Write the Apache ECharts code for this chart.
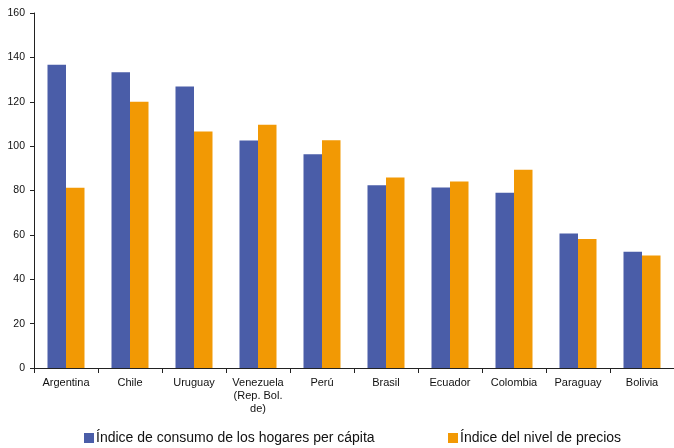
<!DOCTYPE html>
<html><head><meta charset="utf-8">
<script src="https://cdn.jsdelivr.net/npm/echarts@6/dist/echarts.min.js"></script>
<style>html,body{margin:0;padding:0;background:#fff}#c{width:674px;height:448px}</style>
</head><body><div id="c"></div>
<script>
var categories = ["Argentina","Chile","Uruguay","Venezuela\n(Rep. Bol.\nde)","Perú","Brasil","Ecuador","Colombia","Paraguay","Bolivia"];
var consumo = [136.7,133.3,126.9,102.5,96.3,82.4,81.3,79.0,60.6,52.4];
var precios = [81.2,120.0,106.6,109.6,102.6,85.9,84.1,89.4,58.1,50.7];
var seriesNames = ["Índice de consumo de los hogares per cápita","Índice del nivel de precios"];
var yTicks = [0,20,40,60,80,100,120,140,160];

var font = "'Liberation Sans', Arial, sans-serif";
var chart = echarts.init(document.getElementById('c'), null, {renderer:'canvas'});
chart.setOption({
  animation:false,
  grid:{left:34,top:13,right:-5,bottom:80,containLabel:false},
  legend:[
    {data:[seriesNames[0]],left:79,top:426,itemWidth:10,itemHeight:10,itemGap:6,icon:'rect',
     textStyle:{fontFamily:font,fontSize:14,color:'#111',padding:[0,0,0,-3]}},
    {data:[seriesNames[1]],left:443,top:426,itemWidth:10,itemHeight:10,icon:'rect',
     textStyle:{fontFamily:font,fontSize:14,color:'#111',padding:[0,0,0,-3]}}
  ],
  xAxis:{type:'category',data:categories,
    axisLine:{lineStyle:{color:'#222',width:1}},
    axisTick:{show:true,length:5,alignWithLabel:false,lineStyle:{color:'#222'}},
    axisLabel:{interval:0,fontFamily:font,fontSize:11,color:'#111',lineHeight:13,margin:8}},
  yAxis:{type:'value',min:yTicks[0],max:yTicks[yTicks.length-1],interval:20,
    axisLine:{show:true,lineStyle:{color:'#222',width:1}},
    axisTick:{show:true,length:4,lineStyle:{color:'#222'}},
    splitLine:{show:false},
    axisLabel:{fontFamily:font,fontSize:10.5,color:'#111',margin:9}},
  series:[
    {name:seriesNames[0],type:'bar',data:consumo,barWidth:18.5,barGap:'0%',
     itemStyle:{color:'#4A5DA8'}},
    {name:seriesNames[1],type:'bar',data:precios,barWidth:18.5,
     itemStyle:{color:'#F29904'}}
  ]
});
</script></body></html>
